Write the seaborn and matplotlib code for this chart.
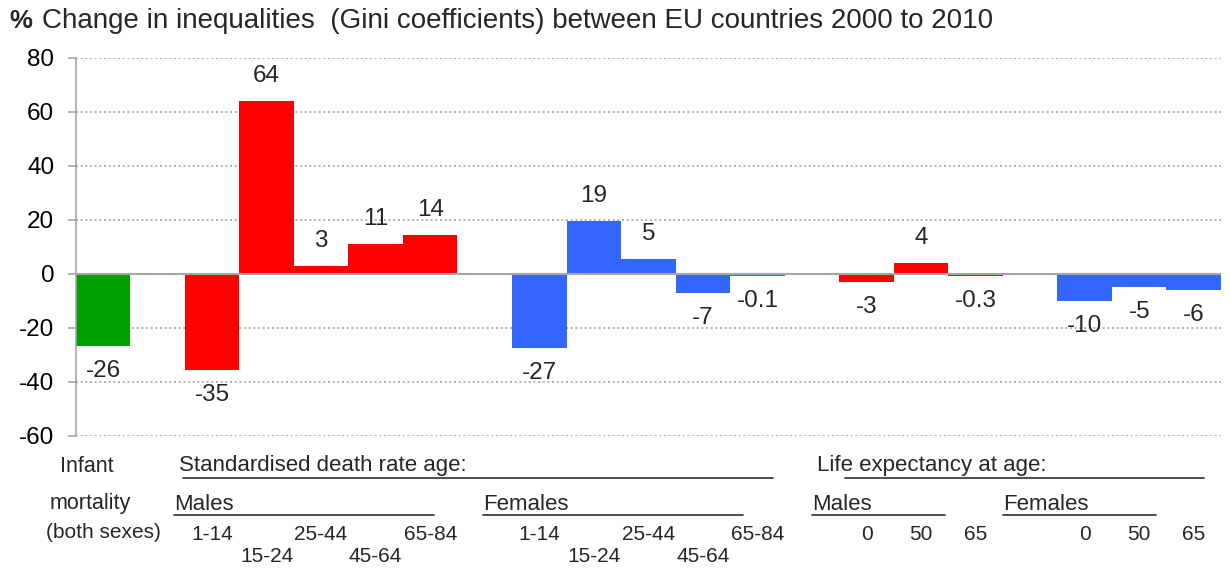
import matplotlib
matplotlib.use("Agg")
import matplotlib.pyplot as plt
import matplotlib.transforms as mtransforms
from matplotlib.lines import Line2D
import seaborn as sns
import pandas as pd

# Data
group_names = ["Infant", "SDR males", "SDR females", "LE males", "LE females"]
group_colours = ["#00A000", "#FF0000", "#3366FF", "#FF0000", "#3366FF"]
group_sizes = [1, 5, 5, 3, 3]
value_labels = ["-26", "-35", "64", "3", "11", "14",
                "-27", "19", "5", "-7", "-0.1",
                "-3", "4", "-0.3",
                "-10", "-5", "-6"]
bar_heights = [-26.7, -35.6, 64, 3, 11, 14.5,
               -27.5, 19.5, 5.5, -7, -1,
               -3.2, 4, -1,
               -10, -5, -6]
age_labels = ["", "1-14", "15-24", "25-44", "45-64", "65-84",
              "1-14", "15-24", "25-44", "45-64", "65-84",
              "0", "50", "65",
              "0", "50", "65"]

# bar slots: one empty slot between groups
positions, groups = [], []
p = 0
for name, n in zip(group_names, group_sizes):
    for i in range(n):
        positions.append(p + i)
        groups.append(name)
    p += n + 1

df = pd.DataFrame({"pos": positions, "height": bar_heights, "group": groups,
                   "label": value_labels, "age": age_labels})

sns.set_style("white")
plt.rcParams["font.family"] = ["Liberation Sans", "DejaVu Sans"]
plt.rcParams["axes.unicode_minus"] = False

W, H = 1230, 569
fig = plt.figure(figsize=(W / 100, H / 100), dpi=100)
ax = fig.add_axes([75.7 / W, 1 - 435.7 / H, (1221 - 75.7) / W, (435.7 - 57.7) / H])

sns.barplot(data=df, x="pos", y="height", hue="group",
            palette=dict(zip(group_names, group_colours)),
            native_scale=True, width=1, dodge=False, saturation=1,
            edgecolor="none", legend=False, ax=ax, zorder=2)

ax.set_xlim(-0.5, p - 1.5)
ax.set_ylim(-60, 80)
ax.set_yticks(range(-60, 81, 20))
ax.set_xticks([])
ax.set_xlabel("")
ax.set_ylabel("")

grid_col = "#A6A6A6"
for yv in range(-60, 81, 20):
    if yv == 0:
        ax.axhline(0, color=grid_col, lw=1.5, zorder=3)
    else:
        ax.axhline(yv, color=grid_col, lw=1.2, ls=(0, (1.2, 1.6)), zorder=1)

for s in ["top", "right", "bottom"]:
    ax.spines[s].set_visible(False)
ax.spines["left"].set_color(grid_col)
ax.spines["left"].set_linewidth(1.2)
ax.tick_params(axis="y", length=5.5, width=1.2, color=grid_col, pad=10,
               labelsize=17.5, labelcolor="black", left=True)

# value labels
for _, r in df.iterrows():
    off = 18 if r["height"] >= 0 else -18
    ax.annotate(r["label"], (r["pos"], r["height"]), xytext=(0, off),
                textcoords="offset points", ha="center", va="center",
                fontsize=17.5)

# age labels under bars, alternating rows for the death rate groups
trans = mtransforms.blended_transform_factory(ax.transData, fig.transFigure)
for i, r in df.iterrows():
    if not r["age"]:
        continue
    row2 = r["group"].startswith("SDR") and (r["pos"] % 2 == 1)
    ypx = 557 if row2 else 534
    ax.text(r["pos"], 1 - ypx / H, r["age"], transform=trans,
            ha="center", va="center", fontsize=15)

def ftext(xpx, ypx, s, **kw):
    fig.text(xpx / W, 1 - ypx / H, s, **kw)

def uline(x0, x1, ypx):
    fig.add_artist(Line2D([x0 / W, x1 / W], [1 - ypx / H, 1 - ypx / H],
                          transform=fig.transFigure, color="#404040", lw=1.3))

ftext(87, 466, "Infant", ha="center", va="center", fontsize=15.5)
ftext(90, 504, "mortality", ha="center", va="center", fontsize=15.5)
ftext(103, 533, "(both sexes)", ha="center", va="center", fontsize=15)

ftext(179, 465, "Standardised death rate age:", ha="left", va="center", fontsize=16)
uline(183, 773, 478)
ftext(174, 504, "Males", ha="left", va="center", fontsize=16)
uline(174, 434, 515)
ftext(483, 504, "Females", ha="left", va="center", fontsize=16)
uline(483, 743, 515)

ftext(817, 465, "Life expectancy at age:", ha="left", va="center", fontsize=16)
uline(845, 1204, 478)
ftext(812, 504, "Males", ha="left", va="center", fontsize=16)
uline(812, 945, 515)
ftext(1003, 504, "Females", ha="left", va="center", fontsize=16)
uline(1003, 1156, 515)

# title
ftext(9, 28.5, "%", ha="left", va="baseline", fontsize=18.5, fontweight="bold")
ftext(42, 28.5, "Change in inequalities  (Gini coefficients) between EU countries 2000 to 2010",
      ha="left", va="baseline", fontsize=20)

fig.savefig("out.png", dpi=100)
